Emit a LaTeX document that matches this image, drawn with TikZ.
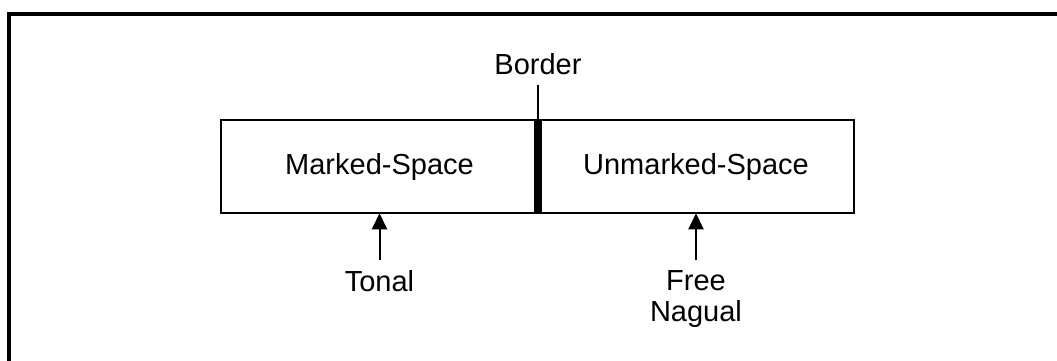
\documentclass[tikz,border=0pt]{standalone}
\usepackage{fontspec}
\setmainfont{Liberation Sans}
\usetikzlibrary{positioning}
\usetikzlibrary{arrows.meta}
\tikzset{myspace/.style={draw, line width=2pt, outer sep=0pt, inner sep=0pt,
minimum height=93.5pt, font=\fontsize{29}{31}\selectfont}}

\begin{document}
\begin{tikzpicture}[x=1pt, y=-1pt, lbl/.style={inner xsep=0pt, inner ysep=10pt, outer sep=0pt, align=center, font=\fontsize{29}{31}\selectfont}, up/.style={-{Triangle[length=16pt, width=15pt]}, line width=2pt}]
	\useasboundingbox (0,0) rectangle (1057,360);
	\draw[line width=4pt] (9,364) -- (9,14) -- (1062,14);
	\node[myspace, minimum width=317pt](marked) at (379.5,166.5) {Marked-Space};
	\node[myspace, minimum width=316pt, right=0pt of marked](unmarked) {Unmarked-Space};
	\node[lbl, above=35pt of marked.north east](border) {Border};
	\node[lbl, below=47pt of marked](tonal) {Tonal};
	\node[lbl, below=47pt of unmarked](nagual) {Free\\Nagual};
	\draw[line width=8pt] (marked.north east) -- (marked.south east);
	\draw[line width=1.5pt] (border) -- (marked.north east);
	\draw[up] (tonal) -- (marked);
	\draw[up] (nagual) -- (unmarked);
\end{tikzpicture}
\end{document}
